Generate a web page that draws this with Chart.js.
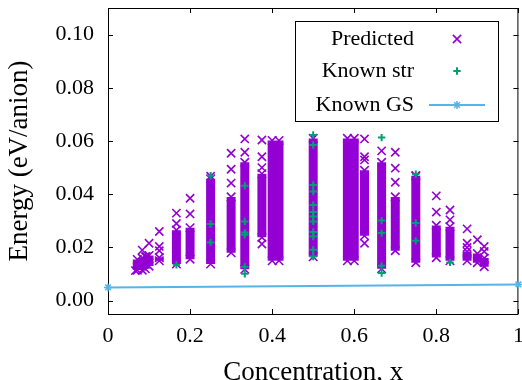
<!DOCTYPE html>
<html>
<head>
<meta charset="utf-8">
<script src="https://cdn.jsdelivr.net/npm/chart.js@4"></script>
<style>
  html, body { margin: 0; padding: 0; background: #fff; overflow: hidden; }
</style>
</head>
<body>
<canvas id="energies" width="526" height="380"></canvas>
<script>
// dense columns of predicted structures (centre of lowest / highest marker)
const colX  = [0.0714, 0.0833, 0.0909, 0.1, 0.125, 0.1667, 0.2, 0.25, 0.3, 0.3333, 0.375, 0.4, 0.4167, 0.5, 0.5833, 0.6, 0.625, 0.6667, 0.7, 0.75, 0.8, 0.8333, 0.875, 0.9, 0.9167];
const colLo = [0.0115, 0.0115, 0.0120, 0.0130, 0.0150, 0.0138, 0.0156, 0.0138, 0.0180, 0.0118, 0.0238, 0.0150, 0.0150, 0.0165, 0.0150, 0.0150, 0.0244, 0.0120, 0.0188, 0.0143, 0.0162, 0.0150, 0.0150, 0.0143, 0.0128];
const colHi = [0.0155, 0.0160, 0.0165, 0.0170, 0.0162, 0.0265, 0.0274, 0.0458, 0.0390, 0.0520, 0.0477, 0.0602, 0.0602, 0.0610, 0.0610, 0.0610, 0.0490, 0.0520, 0.0390, 0.0470, 0.0283, 0.0278, 0.0185, 0.0177, 0.0160];

// isolated predicted points
const predX = [0.0667, 0.0833, 0.0933, 0.1, 0.125, 0.125, 0.125, 0.1667, 0.1667, 0.2, 0.2, 0.25, 0.3, 0.3, 0.3, 0.3333, 0.3333, 0.375, 0.375, 0.375, 0.375, 0.625, 0.625, 0.625, 0.625, 0.6667, 0.7, 0.7, 0.7, 0.75, 0.8, 0.8, 0.8333, 0.8333, 0.875, 0.875, 0.875, 0.9, 0.9167, 0.9167];
const predY = [0.0113, 0.0190, 0.0166, 0.0216, 0.0260, 0.0204, 0.0188, 0.0329, 0.0290, 0.0385, 0.0326, 0.0468, 0.0554, 0.0494, 0.0442, 0.0608, 0.0558, 0.0604, 0.0541, 0.0500, 0.0213, 0.0608, 0.0541, 0.0529, 0.0216, 0.0563, 0.0558, 0.0498, 0.0445, 0.0468, 0.0394, 0.0333, 0.0341, 0.0304, 0.0270, 0.0216, 0.0200, 0.0229, 0.0204, 0.0185];

// known structures
const knownX = [0.1667, 0.25, 0.25, 0.25, 0.3333, 0.3333, 0.3333, 0.3333, 0.3333, 0.3333, 0.5, 0.5, 0.5, 0.5, 0.5, 0.5, 0.5, 0.5, 0.5, 0.5, 0.5, 0.5, 0.6667, 0.6667, 0.6667, 0.6667, 0.6667, 0.75, 0.75, 0.75, 0.8333];
const knownY = [0.0135, 0.0470, 0.0288, 0.0219, 0.0432, 0.0298, 0.0256, 0.0248, 0.0128, 0.0101, 0.0623, 0.0585, 0.0435, 0.0410, 0.0360, 0.0333, 0.0316, 0.0298, 0.0258, 0.0241, 0.0191, 0.0166, 0.0613, 0.0301, 0.0254, 0.0131, 0.0104, 0.0475, 0.0292, 0.0225, 0.0144];

// known ground states
const gsX = [0, 1];
const gsY = [0.0050, 0.0061];

const xTickValues = [0, 0.2, 0.4, 0.6, 0.8, 1];
const xTickLabels = ["0", "0.2", "0.4", "0.6", "0.8", "1"];
const yTickValues = [0, 0.02, 0.04, 0.06, 0.08, 0.10];
const yTickLabels = ["0.00", "0.02", "0.04", "0.06", "0.08", "0.10"];

const PURPLE = "#9400d3";
const GREEN = "#009e73";
const BLUE = "#56b4e9";
const SERIF = "'Liberation Serif', 'Times New Roman', serif";

function columnPoints() {
  const pts = [];
  colX.forEach((x, i) => {
    pts.push({ x: x, y: colLo[i] });
    pts.push({ x: x, y: colHi[i] });
    pts.push({ x: x, y: null });
  });
  return pts;
}

// gnuplot style border with inward ticks on all four sides
const framePlugin = {
  id: "frame",
  beforeDatasetsDraw(chart) {
    const { ctx, chartArea: a, scales } = chart;
    const len = 5;
    ctx.save();
    ctx.strokeStyle = "#000";
    ctx.lineWidth = 1;
    ctx.strokeRect(a.left + 0.5, a.top + 0.5, a.right - a.left - 1, a.bottom - a.top);
    ctx.beginPath();
    xTickValues.forEach((v) => {
      const px = Math.round(scales.x.getPixelForValue(v)) + 0.5;
      ctx.moveTo(px, a.bottom);
      ctx.lineTo(px, a.bottom - len);
      ctx.moveTo(px, a.top);
      ctx.lineTo(px, a.top + len);
    });
    yTickValues.forEach((v) => {
      const py = Math.round(scales.y.getPixelForValue(v)) + 0.5;
      ctx.moveTo(a.left, py);
      ctx.lineTo(a.left + len, py);
      ctx.moveTo(a.right, py);
      ctx.lineTo(a.right - len, py);
    });
    ctx.stroke();
    ctx.restore();
  },
};

// boxed key in the top right corner
const keyPlugin = {
  id: "key",
  afterDraw(chart) {
    const ctx = chart.ctx;
    const box = { left: 295.5, top: 21.5, right: 498.5, bottom: 121.5 };
    const rows = [
      { ds: 2, y: 39 },
      { ds: 1, y: 71 },
      { ds: 0, y: 105, line: true },
    ];
    ctx.save();
    ctx.fillStyle = "#fff";
    ctx.fillRect(box.left, box.top, box.right - box.left, box.bottom - box.top);
    ctx.strokeStyle = "#000";
    ctx.lineWidth = 1;
    ctx.strokeRect(box.left, box.top, box.right - box.left, box.bottom - box.top);
    ctx.font = "22px " + SERIF;
    ctx.textAlign = "right";
    ctx.textBaseline = "middle";
    rows.forEach((r) => {
      const ds = chart.data.datasets[r.ds];
      ctx.fillStyle = "#000";
      ctx.fillText(ds.label, 414, r.y);
      if (r.line) {
        ctx.strokeStyle = ds.borderColor;
        ctx.lineWidth = ds.borderWidth;
        ctx.beginPath();
        ctx.moveTo(429, r.y);
        ctx.lineTo(485, r.y);
        ctx.stroke();
      }
      ctx.strokeStyle = ds.pointBorderColor;
      ctx.lineWidth = ds.pointBorderWidth;
      Chart.helpers.drawPoint(ctx, { pointStyle: ds.pointStyle, radius: ds.pointRadius, rotation: 0, borderWidth: ds.pointBorderWidth }, 457, r.y);
    });
    ctx.restore();
  },
};

const ctx = document.getElementById("energies").getContext("2d");
const chart = new Chart(ctx, {
  type: "scatter",
  data: {
    datasets: [
      {
        label: "Known GS",
        data: gsX.map((x, i) => ({ x: x, y: gsY[i] })),
        showLine: true,
        borderColor: BLUE,
        borderWidth: 2,
        pointStyle: "star",
        pointRadius: 4,
        pointBorderColor: BLUE,
        pointBorderWidth: 1.5,
        clip: false,
      },
      {
        label: "Known str",
        data: knownX.map((x, i) => ({ x: x, y: knownY[i] })),
        pointStyle: "cross",
        pointRadius: 3.7,
        pointBorderColor: GREEN,
        pointBorderWidth: 2,
      },
      {
        label: "Predicted",
        data: predX.map((x, i) => ({ x: x, y: predY[i] })),
        pointStyle: "crossRot",
        pointRadius: 5.8,
        pointBorderColor: PURPLE,
        pointBorderWidth: 1.6,
      },
      {
        label: "Predicted",
        data: columnPoints(),
        showLine: true,
        spanGaps: false,
        borderColor: PURPLE,
        borderWidth: 9,
        pointStyle: "crossRot",
        pointRadius: 6,
        pointBorderColor: PURPLE,
        pointBorderWidth: 1.6,
      },
    ],
  },
  options: {
    responsive: false,
    animation: false,
    events: [],
    layout: {
      padding: { top: 8, right: 2.5, left: 0, bottom: 0 },
    },
    plugins: {
      legend: { display: false },
      tooltip: { enabled: false },
    },
    scales: {
      x: {
        type: "linear",
        min: 0,
        max: 1,
        grid: { display: false, drawTicks: false },
        border: { display: false },
        afterBuildTicks: (s) => { s.ticks = xTickValues.map((v) => ({ value: v })); },
        afterFit: (s) => { s.height = 66; s.paddingLeft = 0; s.paddingRight = 0; },
        ticks: {
          autoSkip: false,
          maxRotation: 0,
          padding: 9,
          color: "#000",
          font: { family: SERIF, size: 22 },
          callback: (v, i) => xTickLabels[i],
        },
        title: {
          display: true,
          text: "Concentration, x",
          color: "#000",
          padding: { top: 0, bottom: 0 },
          font: { family: SERIF, size: 27, lineHeight: 0.56 },
        },
      },
      y: {
        type: "linear",
        min: -0.005,
        max: 0.11,
        grid: { display: false, drawTicks: false },
        border: { display: false },
        afterBuildTicks: (s) => { s.ticks = yTickValues.map((v) => ({ value: v })); },
        afterFit: (s) => { s.width = 108; s.paddingTop = 0; s.paddingBottom = 0; },
        ticks: {
          padding: 14,
          color: "#000",
          font: { family: SERIF, size: 22 },
          callback: (v, i) => yTickLabels[i],
        },
        title: {
          display: true,
          text: "Energy (eV/anion)",
          color: "#000",
          padding: { top: 4, bottom: 0 },
          font: { family: SERIF, size: 27, lineHeight: 1.2 },
        },
      },
    },
  },
  plugins: [framePlugin, keyPlugin],
});
</script>
</body>
</html>
